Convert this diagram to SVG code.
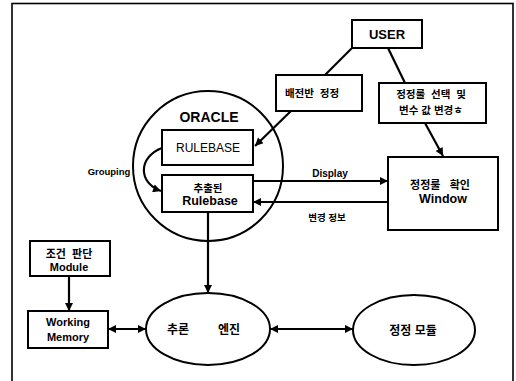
<svg xmlns="http://www.w3.org/2000/svg" width="516" height="381" viewBox="0 0 516 381">
<defs>
<style>
.box{fill:#fff;stroke:#000;stroke-width:2}
.ell{fill:#fff;stroke:#000;stroke-width:2}
.ln{fill:none;stroke:#000;stroke-width:2.2}
.t{font-family:"Liberation Sans","Noto Sans CJK KR",sans-serif;font-weight:bold;fill:#000;text-anchor:middle;white-space:pre}
.n{font-weight:normal}
</style>
<marker id="ah" viewBox="0 0 10 10" refX="10" refY="5" markerWidth="10" markerHeight="8" markerUnits="userSpaceOnUse" orient="auto-start-reverse">
<path d="M0,0 L10,5 L0,10 z" fill="#000"/>
</marker>
</defs>
<rect x="0" y="0" width="516" height="381" fill="#fff"/>
<rect x="12" y="3.5" width="501" height="400" fill="none" stroke="#000" stroke-width="1.6"/>

<g id="oracle">
<circle cx="208" cy="166" r="75" class="ell" fill="none"/>
<text class="t" x="209" y="122" font-size="14">ORACLE</text>
</g>

<g id="connectors">
<line class="ln" x1="352" y1="48" x2="325" y2="75"/>
<line class="ln" x1="388" y1="48" x2="405" y2="83"/>
<line class="ln" x1="292" y1="110" x2="255" y2="146" marker-end="url(#ah)"/>
<line class="ln" x1="425" y1="123" x2="443" y2="156" marker-end="url(#ah)"/>
<path class="ln" d="M162,148 C138,157 138,183 161,191" marker-end="url(#ah)"/>
<line class="ln" x1="253" y1="181" x2="388" y2="181" marker-end="url(#ah)"/>
<line class="ln" x1="388" y1="202" x2="253" y2="202" marker-end="url(#ah)"/>
<line class="ln" x1="208" y1="212" x2="208" y2="293" marker-end="url(#ah)"/>
<line class="ln" x1="69" y1="276" x2="69" y2="311" marker-end="url(#ah)"/>
<line class="ln" x1="108" y1="329" x2="146" y2="329" marker-start="url(#ah)" marker-end="url(#ah)"/>
<line class="ln" x1="270" y1="329" x2="353" y2="329" marker-start="url(#ah)" marker-end="url(#ah)"/>
</g>

<g id="user">
<rect class="box" x="352" y="20" width="70" height="28"/>
<text class="t" x="387" y="39" font-size="13">USER</text>
</g>

<g id="switchboard">
<rect class="box" x="276" y="75" width="86" height="36"/>
<text class="t" x="312" y="97" font-size="10.5">배전반  정정</text>
</g>

<g id="select">
<rect class="box" x="379" y="83" width="107" height="40"/>
<text class="t" x="431" y="98" font-size="10.5">정정룰  선택  및</text>
<text class="t" x="431" y="114" font-size="10.5">변수 값 변경ㅎ</text>
</g>

<g id="rulebase">
<rect class="box" x="162" y="130" width="91" height="35"/>
<text class="t n" x="208" y="152" font-size="12">RULEBASE</text>
</g>

<g id="extracted">
<rect class="box" x="162" y="175" width="91" height="37"/>
<text class="t" x="208" y="192" font-size="10.5">추출된</text>
<text class="t" x="210" y="205" font-size="12.5">Rulebase</text>
</g>

<g id="window">
<rect class="box" x="388" y="157" width="110" height="73"/>
<text class="t" x="440" y="189" font-size="11">정정룰   확인</text>
<text class="t" x="443" y="203" font-size="12.5">Window</text>
</g>

<g id="labels">
<text class="t" x="109" y="175" font-size="9.5">Grouping</text>
<text class="t" x="330" y="177" font-size="10">Display</text>
<text class="t" x="327" y="221" font-size="9.5">변경 정보</text>
</g>

<g id="condition">
<rect class="box" x="30" y="241" width="80" height="35"/>
<text class="t" x="69" y="258" font-size="11">조건  판단</text>
<text class="t" x="69" y="271" font-size="11">Module</text>
</g>

<g id="memory">
<rect class="box" x="28" y="311" width="80" height="37"/>
<text class="t" x="68" y="326" font-size="11">Working</text>
<text class="t" x="68" y="341" font-size="11">Memory</text>
</g>

<g id="engine">
<ellipse class="ell" cx="208" cy="329" rx="62" ry="36"/>
<text class="t" x="178" y="334" font-size="12">추론</text>
<text class="t" x="229" y="334" font-size="12">엔진</text>
</g>

<g id="correction">
<ellipse class="ell" cx="414" cy="330" rx="61" ry="35"/>
<text class="t" x="413" y="335" font-size="12">정정 모듈</text>
</g>
</svg>
